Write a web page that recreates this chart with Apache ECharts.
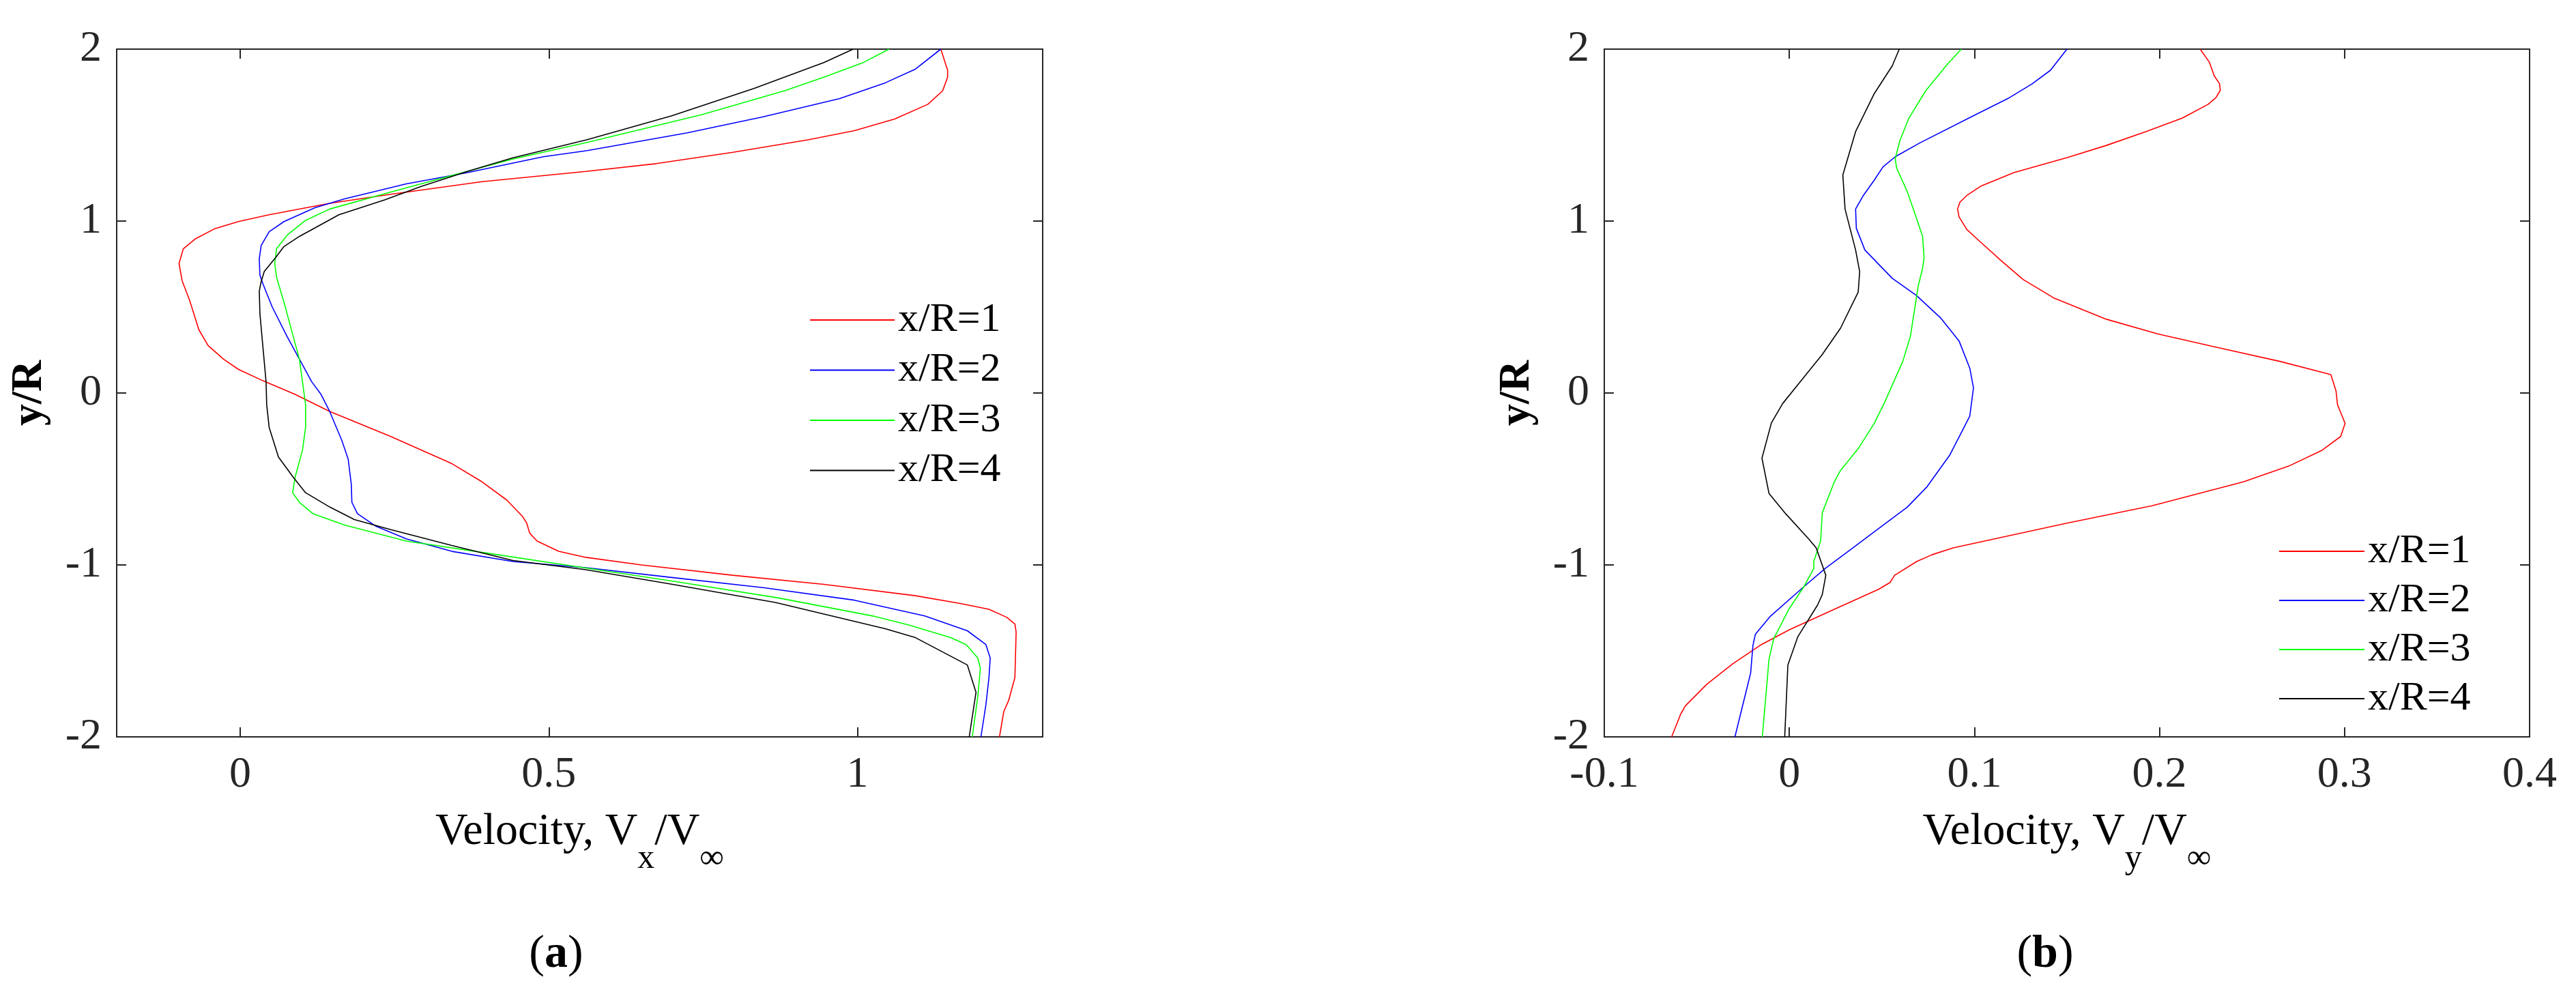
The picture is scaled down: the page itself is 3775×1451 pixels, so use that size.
<!DOCTYPE html>
<html lang="en">

<head>
    <meta charset="UTF-8">
    <title>Velocity profiles</title>
    <style>
        body { margin: 0; background: #fff; }
    </style>
</head>

<body>
    <div id="main" style="width: 3775px; height: 1451px"></div>
    <script src="https://cdn.jsdelivr.net/npm/echarts@6/dist/echarts.min.js"></script>
    <script type="text/javascript">
        // series names (legend)
        var names = ['x/R=1', 'x/R=2', 'x/R=3', 'x/R=4'];
        var colors = ['#ff0000', '#0000ff', '#00ff00', '#000000'];

        // tick labels
        var yTicks = [-2, -1, 0, 1, 2];
        var vxTicks = [0, 0.5, 1];
        var vyTicks = [-0.1, 0, 0.1, 0.2, 0.3, 0.4];

        // (a) Vx/Vinf profiles, pairs of [Vx/Vinf, y/R]
        var vx1 = [[1.135, 2], [1.146, 1.877], [1.146, 1.837], [1.138, 1.758], [1.114, 1.679], [1.06, 1.593], [0.995, 1.526], [0.921, 1.473], [0.798, 1.40], [0.674, 1.334], [0.56, 1.289], [0.392, 1.229], [0.244, 1.156], [0.145, 1.103], [0.047, 1.037], [-0.003, 0.997], [-0.042, 0.954], [-0.072, 0.898], [-0.092, 0.839], [-0.099, 0.753], [-0.094, 0.653], [-0.082, 0.541], [-0.067, 0.369], [-0.052, 0.276], [-0.027, 0.197], [-0.003, 0.138], [0.037, 0.071], [0.089, -0.008], [0.145, -0.107], [0.244, -0.253], [0.343, -0.411], [0.392, -0.517], [0.432, -0.623], [0.457, -0.716], [0.464, -0.755], [0.469, -0.815], [0.481, -0.861], [0.516, -0.921], [0.56, -0.956], [0.65, -1.0], [0.798, -1.06], [0.946, -1.113], [1.094, -1.179], [1.168, -1.225], [1.213, -1.258], [1.242, -1.305], [1.255, -1.344], [1.257, -1.39], [1.256, -1.523], [1.255, -1.655], [1.245, -1.787], [1.237, -1.853], [1.23, -2]];
        var vx2 = [[1.135, 2], [1.094, 1.884], [1.045, 1.804], [0.971, 1.712], [0.847, 1.606], [0.724, 1.513], [0.562, 1.41], [0.491, 1.374], [0.368, 1.282], [0.269, 1.216], [0.17, 1.13], [0.121, 1.077], [0.071, 0.997], [0.047, 0.938], [0.034, 0.858], [0.031, 0.779], [0.032, 0.686], [0.037, 0.634], [0.052, 0.5], [0.076, 0.329], [0.096, 0.197], [0.116, 0.065], [0.131, -0.008], [0.145, -0.107], [0.165, -0.279], [0.175, -0.385], [0.18, -0.53], [0.181, -0.636], [0.19, -0.702], [0.22, -0.775], [0.269, -0.848], [0.343, -0.921], [0.442, -0.98], [0.56, -1.016], [0.699, -1.073], [0.847, -1.132], [0.995, -1.205], [1.109, -1.297], [1.178, -1.383], [1.208, -1.463], [1.215, -1.542], [1.213, -1.655], [1.208, -1.814], [1.2, -2]];
        var vx3 = [[1.051, 2], [1.01, 1.923], [0.946, 1.837], [0.882, 1.758], [0.748, 1.619], [0.562, 1.457], [0.442, 1.361], [0.353, 1.275], [0.244, 1.169], [0.145, 1.07], [0.106, 1.004], [0.076, 0.918], [0.059, 0.839], [0.056, 0.753], [0.059, 0.673], [0.071, 0.528], [0.086, 0.329], [0.096, 0.197], [0.101, 0.065], [0.106, -0.068], [0.106, -0.2], [0.101, -0.332], [0.089, -0.49], [0.085, -0.58], [0.096, -0.636], [0.118, -0.702], [0.17, -0.769], [0.269, -0.861], [0.392, -0.927], [0.56, -1.018], [0.699, -1.093], [0.872, -1.192], [1.025, -1.297], [1.084, -1.35], [1.151, -1.423], [1.176, -1.463], [1.195, -1.542], [1.199, -1.602], [1.195, -1.761], [1.186, -2]];
        var vx4 = [[0.993, 2], [0.946, 1.923], [0.832, 1.771], [0.699, 1.612], [0.562, 1.473], [0.442, 1.368], [0.368, 1.289], [0.294, 1.202], [0.234, 1.123], [0.16, 1.037], [0.096, 0.911], [0.071, 0.852], [0.057, 0.786], [0.039, 0.706], [0.034, 0.647], [0.031, 0.594], [0.032, 0.462], [0.037, 0.263], [0.042, 0.065], [0.043, -0.068], [0.047, -0.2], [0.062, -0.372], [0.086, -0.49], [0.106, -0.58], [0.145, -0.663], [0.185, -0.736], [0.244, -0.795], [0.343, -0.887], [0.442, -0.974], [0.56, -1.028], [0.699, -1.112], [0.867, -1.218], [1.045, -1.371], [1.094, -1.423], [1.178, -1.582], [1.192, -1.741], [1.181, -2]];

        // (b) Vy/Vinf profiles, pairs of [Vy/Vinf, y/R]
        var vy1 = [[0.222, 2], [0.227, 1.923], [0.2296, 1.844], [0.2324, 1.80], [0.2329, 1.761], [0.2305, 1.718], [0.2263, 1.679], [0.2124, 1.599], [0.1926, 1.52], [0.1713, 1.44], [0.1504, 1.37], [0.1213, 1.282], [0.1033, 1.202], [0.0959, 1.149], [0.0922, 1.11], [0.0909, 1.07], [0.0917, 1.024], [0.0959, 0.951], [0.1033, 0.878], [0.1148, 0.766], [0.1263, 0.66], [0.1427, 0.554], [0.1713, 0.429], [0.1992, 0.343], [0.2321, 0.263], [0.265, 0.184], [0.2926, 0.107], [0.2954, 0.012], [0.2962, -0.068], [0.2987, -0.134], [0.3003, -0.177], [0.2979, -0.253], [0.288, -0.332], [0.2699, -0.425], [0.2453, -0.517], [0.196, -0.656], [0.15, -0.757], [0.0885, -0.901], [0.077, -0.941], [0.0688, -0.98], [0.0569, -1.06], [0.0544, -1.102], [0.0482, -1.142], [0.0243, -1.258], [0.0, -1.377], [-0.0151, -1.463], [-0.0307, -1.576], [-0.0447, -1.695], [-0.0562, -1.82], [-0.0587, -1.867], [-0.0636, -2]];
        var vy2 = [[0.150, 2], [0.1411, 1.877], [0.1312, 1.798], [0.118, 1.712], [0.0983, 1.606], [0.0704, 1.454], [0.0572, 1.374], [0.0506, 1.315], [0.0457, 1.235], [0.04, 1.149], [0.0358, 1.07], [0.0362, 0.958], [0.0408, 0.832], [0.0556, 0.667], [0.0687, 0.567], [0.0819, 0.435], [0.0917, 0.303], [0.0975, 0.144], [0.0995, 0.03], [0.0975, -0.134], [0.0868, -0.359], [0.0745, -0.544], [0.0638, -0.663], [0.049, -0.782], [0.0334, -0.908], [0.0194, -1.02], [0.0079, -1.126], [-0.0102, -1.298], [-0.0184, -1.404], [-0.0197, -1.47], [-0.0209, -1.628], [-0.0294, -2]];
        var vy3 = [[0.0929, 2], [0.0852, 1.91], [0.0737, 1.758], [0.0646, 1.599], [0.0597, 1.467], [0.0572, 1.361], [0.058, 1.308], [0.0638, 1.169], [0.0687, 1.017], [0.072, 0.911], [0.0728, 0.786], [0.072, 0.726], [0.0696, 0.62], [0.0679, 0.501], [0.0654, 0.329], [0.0613, 0.184], [0.0564, 0.065], [0.0515, -0.054], [0.0457, -0.18], [0.0375, -0.319], [0.0276, -0.451], [0.0243, -0.517], [0.0178, -0.696], [0.0169, -0.861], [0.0132, -0.98], [0.0132, -1.02], [0.0079, -1.126], [-0.0003, -1.258], [-0.0085, -1.43], [-0.011, -1.549], [-0.0146, -2]];
        var vy4 = [[0.0594, 2], [0.0556, 1.903], [0.0457, 1.738], [0.0358, 1.52], [0.0289, 1.268], [0.0301, 1.07], [0.0358, 0.832], [0.038, 0.706], [0.0372, 0.587], [0.0276, 0.376], [0.0178, 0.224], [0.0059, 0.065], [-0.0036, -0.061], [-0.0097, -0.174], [-0.0148, -0.379], [-0.011, -0.584], [-0.002, -0.702], [0.0104, -0.848], [0.0145, -0.901], [0.0197, -1.06], [0.0178, -1.172], [0.0153, -1.232], [0.0046, -1.417], [-0.0008, -1.582], [-0.0025, -2]];

        var myChart = echarts.init(document.getElementById('main'));

        var FONT = 'Liberation Serif';
        var AX = '#262626';

        function xAx(grid, min, max, ticks, pos, nameText) {
            var ax = {
                gridIndex: grid,
                type: 'value',
                position: pos,
                min: min,
                max: max,
                axisLine: { show: true, onZero: false, lineStyle: { color: AX, width: 2 } },
                axisTick: { show: true, inside: true, length: 14, customValues: ticks, lineStyle: { color: AX, width: 2 } },
                axisLabel: { show: pos === 'bottom', customValues: ticks, margin: 24, fontSize: 64, fontFamily: FONT, color: AX },
                splitLine: { show: false }
            };
            if (nameText) {
                ax.name = nameText;
                ax.nameLocation = 'middle';
                ax.nameGap = 107;
                ax.nameTextStyle = {
                    fontFamily: FONT,
                    color: '#000',
                    rich: {
                        m: { fontSize: 66, fontFamily: FONT, color: '#000', lineHeight: 66, verticalAlign: 'top' },
                        s: { fontSize: 50, fontFamily: FONT, color: '#000', lineHeight: 97, verticalAlign: 'bottom' }
                    }
                };
            }
            return ax;
        }

        function yAx(grid, pos, showName) {
            var ax = {
                gridIndex: grid,
                type: 'value',
                position: pos,
                min: -2,
                max: 2,
                interval: 1,
                axisLine: { show: true, onZero: false, lineStyle: { color: AX, width: 2 } },
                axisTick: { show: true, inside: true, length: 14, lineStyle: { color: AX, width: 2 } },
                axisLabel: { show: pos === 'left', margin: 22, fontSize: 64, fontFamily: FONT, color: AX },
                splitLine: { show: false }
            };
            if (showName) {
                ax.name = 'y/R';
                ax.nameLocation = 'middle';
                ax.nameRotate = 90;
                ax.nameGap = 96;
                ax.nameTextStyle = { fontSize: 64, fontWeight: 'bold', fontFamily: FONT, color: '#000' };
            }
            return ax;
        }

        function lineSeries(name, data, color, idx) {
            return {
                name: name,
                type: 'line',
                xAxisIndex: idx,
                yAxisIndex: idx,
                data: data,
                showSymbol: false,
                symbol: 'none',
                smooth: false,
                clip: true,
                lineStyle: { color: color, width: 1.6 },
                itemStyle: { color: color }
            };
        }

        function legendAt(left, top, width, gap) {
            return {
                data: names,
                orient: 'vertical',
                left: left,
                top: top,
                icon: 'rect',
                itemWidth: width,
                itemHeight: 2,
                itemGap: gap,
                selectedMode: false,
                textStyle: { fontSize: 60, lineHeight: 60, fontFamily: FONT, color: '#000' }
            };
        }

        var vxSets = [vx1, vx2, vx3, vx4];
        var vySets = [vy1, vy2, vy3, vy4];
        var series = [];
        for (var i = 0; i < 4; i++) {
            series.push(lineSeries(names[i], vxSets[i], colors[i], 0));
        }
        for (var j = 0; j < 4; j++) {
            series.push(lineSeries(names[j], vySets[j], colors[j], 2));
        }

        var option = {
            backgroundColor: '#fff',
            animation: false,
            textStyle: { fontFamily: FONT },
            grid: [
                { left: 171, top: 72, width: 1357, height: 1008 },
                { left: 2351, top: 72, width: 1356, height: 1008 }
            ],
            xAxis: [
                xAx(0, -0.2, 1.3, vxTicks, 'bottom', '{m|Velocity, V}{s|x}{m|/V}{s|\u221e}'),
                xAx(0, -0.2, 1.3, vxTicks, 'top'),
                xAx(1, -0.1, 0.4, vyTicks, 'bottom', '{m|Velocity, V}{s|y}{m|/V}{s|\u221e}'),
                xAx(1, -0.1, 0.4, vyTicks, 'top')
            ],
            yAxis: [
                yAx(0, 'left', true),
                yAx(0, 'right'),
                yAx(1, 'left', true),
                yAx(1, 'right')
            ],
            legend: [
                legendAt(1182, 434, 124, 13.5),
                legendAt(3335, 773, 125, 12)
            ],
            graphic: [
                {
                    type: 'text', x: 815, y: 1399,
                    style: {
                        text: '({b|a})', align: 'center', verticalAlign: 'middle',
                        fontSize: 68, fontFamily: FONT, fill: '#000',
                        rich: { b: { fontSize: 68, fontWeight: 'bold', fontFamily: FONT, fill: '#000' } }
                    }
                },
                {
                    type: 'text', x: 2997, y: 1399,
                    style: {
                        text: '({b|b})', align: 'center', verticalAlign: 'middle',
                        fontSize: 68, fontFamily: FONT, fill: '#000',
                        rich: { b: { fontSize: 68, fontWeight: 'bold', fontFamily: FONT, fill: '#000' } }
                    }
                }
            ],
            series: series
        };
        myChart.setOption(option);

        window.onresize = function() {
            myChart.resize();
        };
    </script>

</body>

</html>
